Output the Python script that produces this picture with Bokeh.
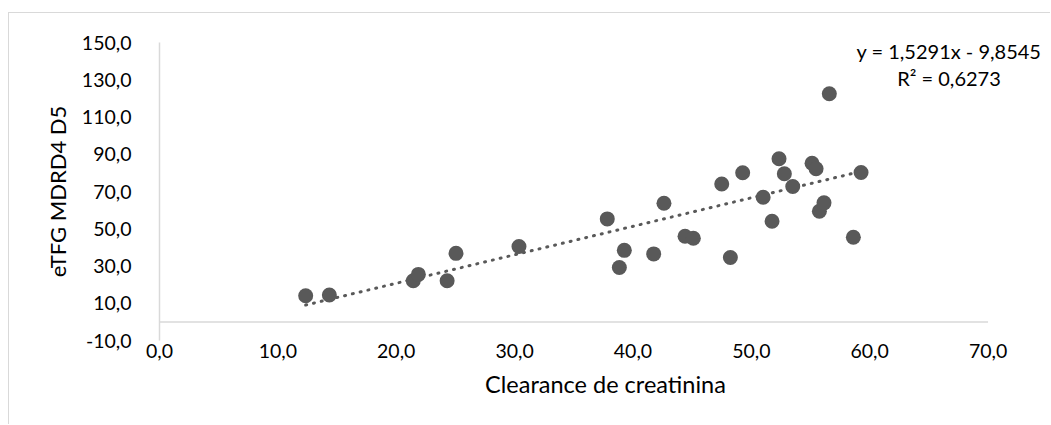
from bokeh.plotting import figure
from bokeh.models import FixedTicker, Label, Range1d
from bokeh.embed import file_html
from bokeh.resources import INLINE

# ---- data ----
clearance = [12.35, 14.35, 21.44, 21.87, 24.3, 25.05, 30.37, 37.83, 38.85, 39.27,
             41.75, 42.62, 44.4, 45.1, 47.5, 48.23, 49.27, 51.0, 51.75, 52.34,
             52.79, 53.5, 55.13, 55.47, 55.75, 56.14, 56.59, 58.62, 59.27]
etfg = [14.0, 14.4, 22.1, 25.5, 22.1, 36.8, 40.5, 55.3, 29.2, 38.4,
        36.5, 63.7, 46.0, 44.9, 74.0, 34.6, 80.1, 66.9, 54.0, 87.6,
        79.5, 72.7, 85.2, 82.2, 59.4, 63.9, 122.5, 45.4, 80.2]

slope = 1.5291
intercept = -9.8545
r2 = 0.6273

x_ticks = [0, 10, 20, 30, 40, 50, 60, 70]
y_ticks = [-10, 10, 30, 50, 70, 90, 110, 130, 150]

FONT = "Lato"
GRID = "#d9d9d9"
MARK = "#595959"
TXT = "#000000"


def fmt(v):
    return f"{v:.1f}".replace(".", ",")


p = figure(width=1042, height=412, output_backend="svg", toolbar_location=None,
           x_range=Range1d(0, 75.36), y_range=Range1d(-10, 150),
           min_border_left=150, min_border_right=0, min_border_top=29,
           min_border_bottom=85, background_fill_color="white",
           border_fill_color="white",
           styles={"margin-left": "8px", "margin-top": "12px",
                   "border-left": "1px solid #d9d9d9",
                   "border-top": "1px solid #d9d9d9"})
p.outline_line_color = None
p.grid.visible = False

# x axis (labels at bottom, line drawn at y=0)
xa = p.xaxis[0]
xa.ticker = FixedTicker(ticks=x_ticks)
xa.major_label_overrides = {t: fmt(t) for t in x_ticks}
xa.axis_line_color = None
xa.major_tick_line_color = None
xa.minor_tick_line_color = None
xa.major_label_standoff = -3
xa.major_label_text_font = FONT
xa.major_label_text_font_size = "19.5px"
xa.major_label_text_color = TXT
xa.axis_label = "Clearance de creatinina"
xa.axis_label_text_font = FONT
xa.axis_label_text_font_size = "23.5px"
xa.axis_label_text_font_style = "normal"
xa.axis_label_text_color = TXT
xa.axis_label_standoff = 9

ya = p.yaxis[0]
ya.ticker = FixedTicker(ticks=y_ticks)
ya.major_label_overrides = {t: fmt(t) for t in y_ticks}
ya.axis_line_color = GRID
ya.axis_line_width = 1.5
ya.major_tick_line_color = None
ya.minor_tick_line_color = None
ya.major_label_standoff = 22
ya.major_label_text_font = FONT
ya.major_label_text_font_size = "19.5px"
ya.major_label_text_color = TXT
ya.axis_label = "eTFG MDRD4 D5"
ya.axis_label_text_font = FONT
ya.axis_label_text_font_size = "22px"
ya.axis_label_text_font_style = "normal"
ya.axis_label_text_color = TXT
ya.axis_label_standoff = 8

# horizontal axis line at y = 0, across the x-axis extent
p.line([x_ticks[0], x_ticks[-1]], [0, 0], line_color=GRID, line_width=1.5)

# trend line
x0, x1 = min(clearance), max(clearance)
p.line([x0, x1], [slope * x0 + intercept, slope * x1 + intercept],
       line_color=MARK, line_width=3, line_dash="1 7", line_cap="round")

# points
p.scatter(clearance, etfg, size=15, fill_color=MARK, line_color=MARK, line_width=0)

# equation labels
eq1 = f"y = {slope:.4f}x - {abs(intercept):.4f}".replace(".", ",")
eq2 = f"R² = {r2:.4f}".replace(".", ",")
p.add_layout(Label(x=66.7, y=145.7, text=eq1, text_align="center",
                   text_baseline="middle", text_font=FONT,
                   text_font_size="20px", text_color=TXT))
p.add_layout(Label(x=66.7, y=131.2, text=eq2, text_align="center",
                   text_baseline="middle", text_font=FONT,
                   text_font_size="20px", text_color=TXT))

open("out.html", "w").write(file_html(p, INLINE))
